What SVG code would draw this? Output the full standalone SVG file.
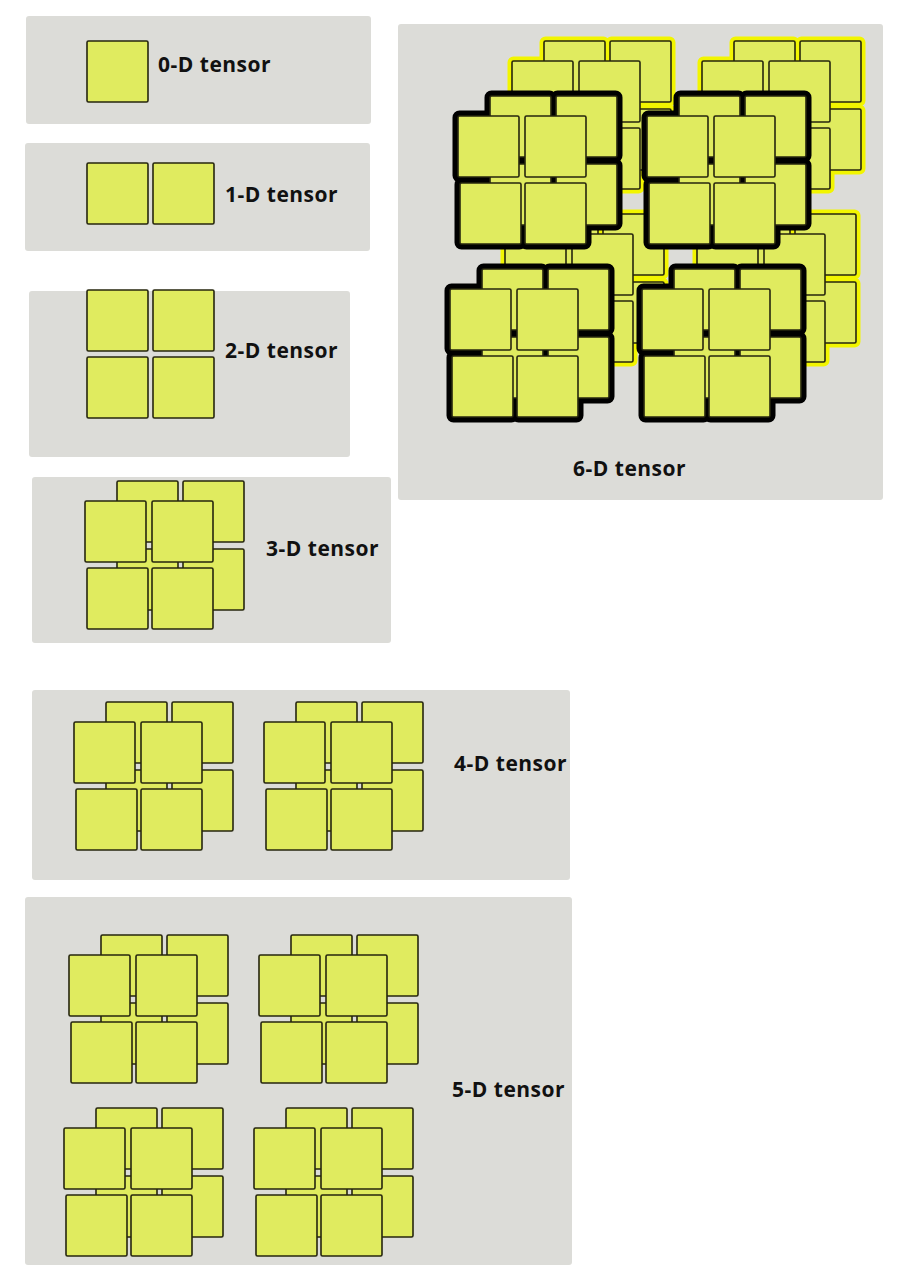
<svg xmlns="http://www.w3.org/2000/svg" xmlns:xlink="http://www.w3.org/1999/xlink" width="904" height="1280" viewBox="0 0 904 1280">
<style>
.panel{fill:#dcdcd8;stroke:none}
.sq{fill:#e0eb5f;stroke:#26260e;stroke-width:1.6}
.olK{fill:#000;stroke:#000;stroke-width:11;stroke-linejoin:round}
.olY{fill:#f2f500;stroke:#f2f500;stroke-width:9;stroke-linejoin:round}
.lbl{font-family:"Open Sans","Liberation Sans",sans-serif;font-weight:bold;font-size:21px;letter-spacing:0.5px;fill:#111}
</style>
<defs>
<g id="back">
<rect x="32" y="-20" width="61" height="61" rx="1.5"/>
<rect x="98" y="-20" width="61" height="61" rx="1.5"/>
<rect x="32" y="48" width="61" height="61" rx="1.5"/>
<rect x="98" y="48" width="61" height="61" rx="1.5"/>
</g>
<g id="front">
<rect x="0" y="0" width="61" height="61" rx="1.5"/>
<rect x="67" y="0" width="61" height="61" rx="1.5"/>
<rect x="2" y="67" width="61" height="61" rx="1.5"/>
<rect x="67" y="67" width="61" height="61" rx="1.5"/>
</g>
<g id="cube">
<use href="#back" class="sq"/>
<use href="#front" class="sq"/>
</g>
<g id="cubeK">
<use href="#back" class="olK"/>
<use href="#front" class="olK"/>
<use href="#back" class="sq"/>
<use href="#front" class="sq"/>
</g>
<g id="cubeY">
<use href="#back" class="olY"/>
<use href="#front" class="olY"/>
<use href="#back" class="sq"/>
<use href="#front" class="sq"/>
</g>
</defs>
<rect width="904" height="1280" fill="#ffffff"/>

<g id="tensor0d">
<rect class="panel" x="26" y="16" width="345" height="108" rx="3"/>
<rect class="sq" x="87" y="41" width="61" height="61" rx="1.5"/>
<text class="lbl" x="158" y="72">0-D tensor</text>
</g>

<g id="tensor1d">
<rect class="panel" x="25" y="143" width="345" height="108" rx="3"/>
<rect class="sq" x="87" y="163" width="61" height="61" rx="1.5"/>
<rect class="sq" x="153" y="163" width="61" height="61" rx="1.5"/>
<text class="lbl" x="225" y="202">1-D tensor</text>
</g>

<g id="tensor2d">
<rect class="panel" x="29" y="291" width="321" height="166" rx="3"/>
<rect class="sq" x="87" y="290" width="61" height="61" rx="1.5"/>
<rect class="sq" x="153" y="290" width="61" height="61" rx="1.5"/>
<rect class="sq" x="87" y="357" width="61" height="61" rx="1.5"/>
<rect class="sq" x="153" y="357" width="61" height="61" rx="1.5"/>
<text class="lbl" x="225" y="358">2-D tensor</text>
</g>

<g id="tensor3d">
<rect class="panel" x="32" y="477" width="359" height="166" rx="3"/>
<use href="#cube" x="85" y="501"/>
<text class="lbl" x="266" y="556">3-D tensor</text>
</g>

<g id="tensor4d">
<rect class="panel" x="32" y="690" width="538" height="190" rx="3"/>
<use href="#cube" x="74" y="722"/>
<use href="#cube" x="264" y="722"/>
<text class="lbl" x="454" y="771">4-D tensor</text>
</g>

<g id="tensor5d">
<rect class="panel" x="25" y="897" width="547" height="368" rx="3"/>
<use href="#cube" x="69" y="955"/>
<use href="#cube" x="259" y="955"/>
<use href="#cube" x="64" y="1128"/>
<use href="#cube" x="254" y="1128"/>
<text class="lbl" x="452" y="1097">5-D tensor</text>
</g>

<g id="tensor6d">
<rect class="panel" x="398" y="24" width="485" height="476" rx="3"/>
<use href="#cubeY" x="512" y="61"/>
<use href="#cubeY" x="702" y="61"/>
<use href="#cubeY" x="505" y="234"/>
<use href="#cubeY" x="697" y="234"/>
<use href="#cubeK" x="458" y="116"/>
<use href="#cubeK" x="647" y="116"/>
<use href="#cubeK" x="450" y="289"/>
<use href="#cubeK" x="642" y="289"/>
<text class="lbl" x="573" y="476">6-D tensor</text>
</g>
</svg>
